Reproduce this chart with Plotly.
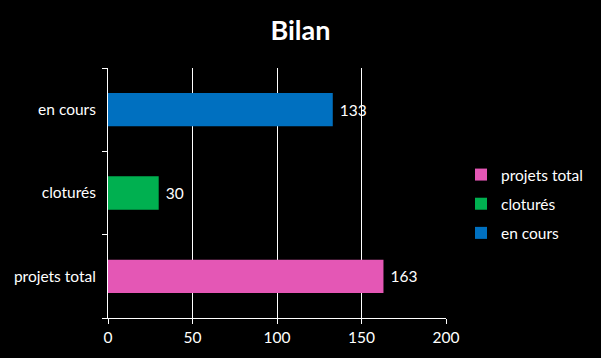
import plotly.graph_objects as go

categories = ["projets total", "cloturés", "en cours"]
values = [163, 30, 133]
colors = ["#E457B5", "#00B050", "#0070C0"]
x_ticks = [0, 50, 100, 150, 200]

FONT = "Lato, 'Open Sans', sans-serif"

fig = go.Figure()
for cat, val, col in zip(categories, values, colors):
    fig.add_trace(go.Bar(
        y=[cat], x=[val], orientation="h", name=cat,
        marker=dict(color=col, line=dict(width=0)),
        width=0.4,
        text=["\u00a0" + str(val)], textposition="outside",
        textfont=dict(color="white", size=15.5, family=FONT),
        cliponaxis=False, legendgroup=cat,
    ))

fig.update_layout(
    width=601, height=358,
    paper_bgcolor="black", plot_bgcolor="black",
    margin=dict(l=108, r=155, t=68, b=40, autoexpand=False),
    barmode="overlay",
    font=dict(family=FONT, color="white", size=15.5),
    title=dict(text="<b>Bilan</b>", x=0.5, xanchor="center", y=0.915, yanchor="middle",
               font=dict(size=27, color="white", family=FONT)),
    showlegend=True,
    legend=dict(xref="container", yref="container", x=461 / 601, xanchor="left",
                y=1 - 204 / 358, yanchor="middle",
                traceorder="grouped", tracegroupgap=6,
                font=dict(size=15.5, color="white", family=FONT),
                bgcolor="rgba(0,0,0,0)", itemwidth=30),
    xaxis=dict(range=[0, 200], tickvals=x_ticks, showgrid=True, gridcolor="white",
               gridwidth=1, zeroline=False, showline=True, linecolor="white",
               linewidth=1, ticks="outside", ticklen=5, tickcolor="white",
               tickfont=dict(size=15.5, color="white")),
    yaxis=dict(type="category", categoryorder="array", categoryarray=categories,
               showgrid=False, zeroline=False, showline=True, linecolor="white",
               linewidth=1, ticks="outside", ticklen=5, tickcolor="white",
               tickson="boundaries", ticklabelstandoff=8,
               tickfont=dict(size=15.5, color="white")),
)

fig.write_html(
    "out.html",
    config={"displayModeBar": False},
    post_script="document.body.style.margin='0';document.body.style.background='black';",
)
